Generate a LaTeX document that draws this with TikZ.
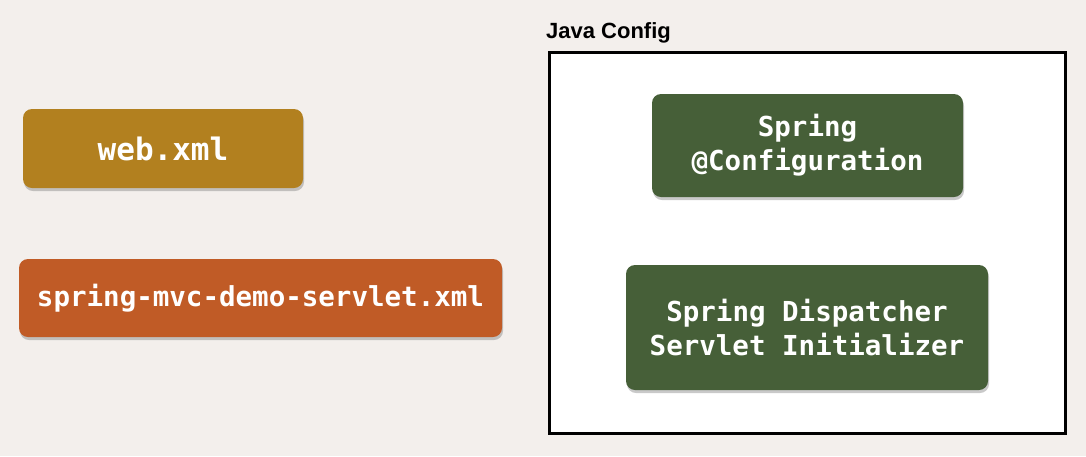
\documentclass[tikz,border=0pt]{standalone}
\usepackage{fontspec}
\setmainfont{Liberation Sans}
\newfontfamily\monobold{DejaVu Sans Mono}
\usetikzlibrary{shadows}
\definecolor{bgc}{HTML}{F3EFEC}
\definecolor{goldc}{HTML}{B2801F}
\definecolor{orangec}{HTML}{C05B26}
\definecolor{greenc}{HTML}{465F38}
\tikzset{
  filebox/.style={rounded corners=9pt, draw=none, text=white,
    font=\monobold\bfseries\fontsize{27.5}{34}\selectfont, align=center,
    drop shadow={shadow xshift=1pt, shadow yshift=-3pt, opacity=0.35, fill=black!60}},
  lbl/.style={font=\bfseries\fontsize{22}{24}\selectfont, anchor=base west, inner sep=0pt}
}
\begin{document}
\begin{tikzpicture}[x=1pt,y=-1pt]
\fill[bgc] (0,0) rectangle (1086,456);
\useasboundingbox (0,0) rectangle (1086,456);
% left boxes
\node[filebox, fill=goldc, minimum width=280pt, minimum height=79pt,
  font=\monobold\bfseries\fontsize{31}{36}\selectfont] (web) at (163,148.5) {web.xml};
\node[filebox, fill=orangec, minimum width=483pt, minimum height=78pt] (servlet) at (260.5,298) {spring-mvc-demo-servlet.xml};
% Java config frame
\node[lbl] (jlabel) at (546,38) {Java Config};
\draw[line width=3pt, fill=white] (549,52) rectangle (1065,433);
\node[filebox, fill=greenc, minimum width=311pt, minimum height=103pt] (conf) at (807.5,145.5) {Spring\\@Configuration};
\node[filebox, fill=greenc, minimum width=362pt, minimum height=125pt] (disp) at (807,327.5) {Spring Dispatcher\\Servlet Initializer};
\end{tikzpicture}
\end{document}
